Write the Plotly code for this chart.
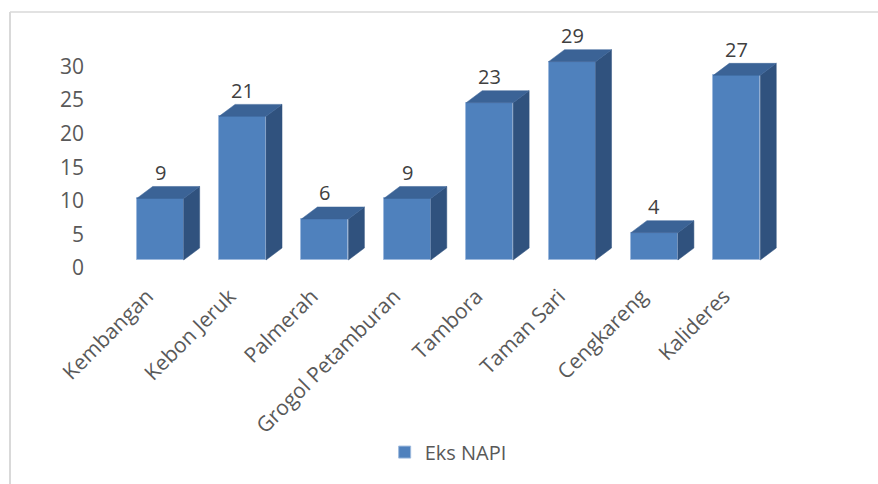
import plotly.graph_objects as go

# Data
districts = ["Kembangan", "Kebon Jeruk", "Palmerah", "Grogol Petamburan",
             "Tambora", "Taman Sari", "Cengkareng", "Kalideres"]
eks_napi = [9, 21, 6, 9, 23, 29, 4, 27]
y_ticks = [0, 5, 10, 15, 20, 25, 30]

# Styling / geometry
FRONT = "#4F81BD"
TOP = "#3B6396"
SIDE = "#30527E"
EDGE = "#9DB9DD"
BAR_W = 0.57
DEPTH_X = 0.194     # depth offset in category units
DEPTH_Y = 1.75      # depth offset in value units
FONT = "Open Sans, Noto Sans, sans-serif"

W, H = 878, 484
M_L, M_R, M_T, M_B = 119, 100, 30, 202

fig = go.Figure()

# Empty trace so the value axis (y) gets its own subplot and tick labels
fig.add_trace(go.Scatter(x=[], y=[], yaxis="y", showlegend=False, hoverinfo="skip"))

# Front faces (drawn against the bar axis y2)
fig.add_trace(go.Bar(
    x=list(range(len(districts))), y=eks_napi, width=BAR_W, yaxis="y2",
    marker=dict(color=FRONT, line=dict(color=EDGE, width=1)),
    name="Eks NAPI", showlegend=True, hoverinfo="skip",
))

# Side and top faces for the 3D look, derived from each value
for i, v in enumerate(eks_napi):
    xl, xr = i - BAR_W / 2, i + BAR_W / 2
    fig.add_trace(go.Scatter(
        x=[xr, xr + DEPTH_X, xr + DEPTH_X, xr, xr],
        y=[0, DEPTH_Y, v + DEPTH_Y, v, 0], yaxis="y2",
        fill="toself", fillcolor=SIDE, mode="lines",
        line=dict(color=SIDE, width=0.5), showlegend=False, hoverinfo="skip",
    ))
    fig.add_trace(go.Scatter(
        x=[xl, xl + DEPTH_X, xr + DEPTH_X, xr, xl],
        y=[v, v + DEPTH_Y, v + DEPTH_Y, v, v], yaxis="y2",
        fill="toself", fillcolor=TOP, mode="lines",
        line=dict(color=TOP, width=0.5), showlegend=False, hoverinfo="skip",
    ))

# Value labels
for i, v in enumerate(eks_napi):
    fig.add_annotation(
        x=i, y=v, xref="x", yref="y2", text=str(v), showarrow=False,
        yanchor="middle", yshift=26,
        font=dict(family=FONT, size=20, color="#404040"),
    )

plot_h = H - M_T - M_B
px_per_unit_bar = 6.84
px_per_unit_tick = 6.72
bar_zero_from_bottom = 22
tick_zero_from_bottom = 14

fig.update_layout(
    width=W, height=H,
    margin=dict(l=M_L, r=M_R, t=M_T, b=M_B),
    paper_bgcolor="white", plot_bgcolor="white",
    bargap=0,
    xaxis=dict(
        range=[-0.5, len(districts) - 0.5],
        tickmode="array", tickvals=list(range(len(districts))), ticktext=districts,
        tickangle=-45, showgrid=False, zeroline=False, showline=False, ticks="",
        ticklabelshift=-13, ticklabelstandoff=-3,
        tickfont=dict(family=FONT, size=21, color="#595959"),
    ),
    # value axis carrying the tick labels
    yaxis=dict(
        range=[-tick_zero_from_bottom / px_per_unit_tick,
               (plot_h - tick_zero_from_bottom) / px_per_unit_tick],
        tickmode="array", tickvals=y_ticks,
        showgrid=False, zeroline=False, showline=False, ticks="",
        ticklabelstandoff=34,
        tickfont=dict(family=FONT, size=21, color="#595959"),
    ),
    # axis for the bar fronts (front plane of the 3D bars)
    yaxis2=dict(
        overlaying="y", side="left", anchor="x", visible=False,
        range=[-bar_zero_from_bottom / px_per_unit_bar,
               (plot_h - bar_zero_from_bottom) / px_per_unit_bar],
    ),
    legend=dict(
        orientation="h", x=0.4995, xanchor="center", y=-0.675, yanchor="middle",
        font=dict(family=FONT, size=20, color="#595959"),
    ),
    shapes=[
        # chart-area frame (left and top edges)
        dict(type="line", xref="paper", yref="paper",
             x0=(10 - M_L) / (W - M_L - M_R), x1=(10 - M_L) / (W - M_L - M_R),
             y0=(H - M_B - 12) / plot_h, y1=(H - M_B - H) / plot_h,
             line=dict(color="#D9D9D9", width=2)),
        dict(type="line", xref="paper", yref="paper",
             x0=(10 - M_L) / (W - M_L - M_R), x1=(W - M_L) / (W - M_L - M_R),
             y0=(H - M_B - 12) / plot_h, y1=(H - M_B - 12) / plot_h,
             line=dict(color="#D9D9D9", width=1.5)),
    ],
)

fig.write_html("out.html")
